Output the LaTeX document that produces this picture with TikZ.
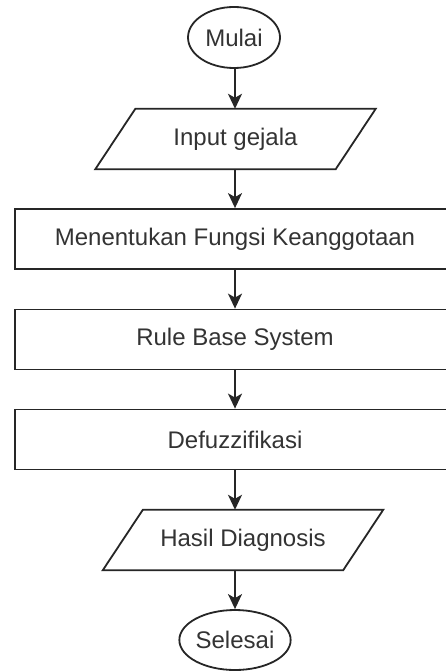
\documentclass[tikz,border=0pt]{standalone}
\usepackage{fontspec}
\setmainfont{Liberation Sans}
\usetikzlibrary{arrows.meta,shapes.geometric}
\begin{document}
\begin{tikzpicture}[x=1pt,y=-1pt,
  line/.style={draw=black!85,line width=1.8pt},
  txt/.style={text=black!80,font=\fontsize{24}{28}\selectfont,inner sep=0pt},
  term/.style={ellipse,line,fill=white,txt},
  proc/.style={rectangle,line,fill=white,txt,minimum width=440pt,minimum height=60pt},
  iobox/.style={rectangle,draw=none,txt,minimum width=280pt,minimum height=60pt},
  arr/.style={line,-{Stealth[length=15pt,width=14pt,inset=4pt]}}]
\fill[white] (0,0) rectangle (446,671);
\useasboundingbox (0,0) rectangle (446,671);
\clip (0,0) rectangle (446,671);

\node[term,minimum width=92pt,minimum height=61pt] (mulai) at (234,37.5) {Mulai};
\node[iobox] (inp) at (235.5,139) {};
\draw[line,fill=white] ([xshift=40pt]inp.north west) -- (inp.north east)
  -- ([xshift=-40pt]inp.south east) -- (inp.south west) -- cycle;
\node[txt] at (inp) {Input gejala};
\node[proc] (fk) at (235,239) {Menentukan Fungsi Keanggotaan};
\node[proc] (rbs) at (235,339.5) {Rule Base System};
\node[proc] (def) at (235,439.5) {Defuzzifikasi};
\node[iobox] (hasil) at (243,540) {};
\draw[line,fill=white] ([xshift=40pt]hasil.north west) -- (hasil.north east)
  -- ([xshift=-40pt]hasil.south east) -- (hasil.south west) -- cycle;
\node[txt] at (hasil) {Hasil Diagnosis};
\node[term,minimum width=104pt,minimum height=60pt] (selesai) at (235,640) {Selesai};

\draw[arr] (mulai.south -| fk.north) -- (fk.north |- inp.north);
\draw[arr] (fk.north |- inp.south) -- (fk.north);
\draw[arr] (fk.south) -- (rbs.north);
\draw[arr] (rbs.south) -- (def.north);
\draw[arr] (def.south) -- (def.south |- hasil.north);
\draw[arr] (def.south |- hasil.south) -- (selesai.north);
\end{tikzpicture}
\end{document}
